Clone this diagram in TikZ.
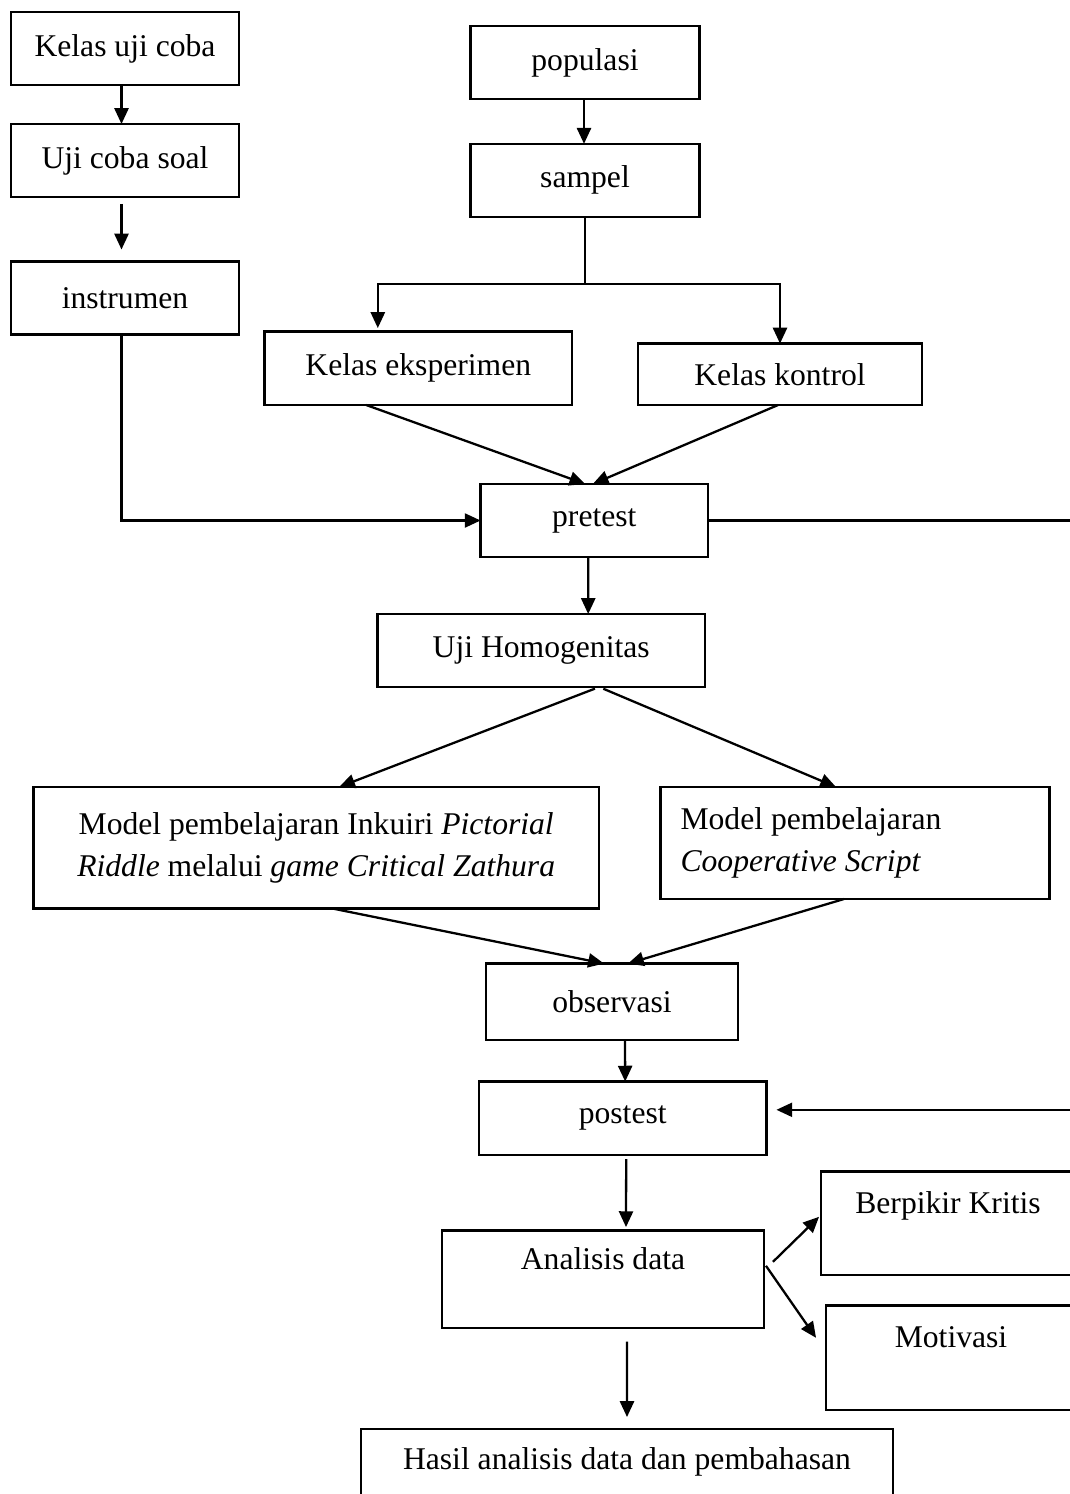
\documentclass[tikz,border=0pt]{standalone}
\usepackage{fontspec}
\setmainfont{Liberation Serif}
\usetikzlibrary{arrows.meta}

\begin{document}
\begin{tikzpicture}[x=0.02cm, y=-0.02cm,
  box/.style={draw, line width=1.3pt, rectangle, inner sep=0pt, outer sep=0pt, align=center, font=\fontsize{18}{23.8}\selectfont},
  arr/.style={line width=1.3pt, -{Triangle[length=9pt,width=8pt]}},
  ln/.style={line width=1.3pt}]
\useasboundingbox (0,0) rectangle (1070,1494);
\fill[white] (0,0) rectangle (1070,1494);
\node[box, minimum width=4.56cm, minimum height=1.46cm] (kelas) at (125,48.5) {Kelas uji coba};
\node[box, minimum width=4.56cm, minimum height=1.46cm] (soal) at (125,160.5) {Uji coba soal};
\node[box, minimum width=4.56cm, minimum height=1.46cm] (instr) at (125,298) {instrumen};
\node[box, minimum width=4.58cm, minimum height=1.46cm] (pop) at (585,62.5) {populasi};
\node[box, minimum width=4.58cm, minimum height=1.46cm] (samp) at (585,180.3) {sampel};
\node[box, minimum width=6.15cm, minimum height=1.47cm] (eksp) at (418.3,368.3) {Kelas eksperimen};
\node[box, minimum width=5.68cm, minimum height=1.23cm] (kontr) at (780,374.3) {Kelas kontrol};
\node[box, minimum width=4.55cm, minimum height=1.46cm] (pre) at (594.3,520.5) {pretest};
\node[box, minimum width=6.55cm, minimum height=1.46cm] (homo) at (541.2,650.5) {Uji Homogenitas};
\node[box, minimum width=11.31cm, minimum height=2.43cm] (inkuiri) at (316.2,847.7) {Model pembelajaran Inkuiri \textit{Pictorial}\\\textit{Riddle} melalui \textit{game Critical Zathura}};
\node[box, text width=6.98cm, inner xsep=0.4cm, align=flush left, minimum height=2.24cm] (coop) at (855,843) {Model pembelajaran\\\textit{Cooperative Script}};
\node[box, minimum width=5.04cm, minimum height=1.53cm] (obs) at (612,1001.8) {observasi};
\node[box, minimum width=5.75cm, minimum height=1.47cm] (post) at (622.7,1118.3) {postest};
\node[box, minimum width=6.44cm, minimum height=1.95cm] (anal) at (603,1279.3) {Analisis data\\\mbox{}};
\node[box, minimum width=5.08cm, minimum height=2.07cm] (kritis) at (948,1223.3) {Berpikir Kritis\\\mbox{}};
\node[box, minimum width=5.0cm, minimum height=2.09cm] (motiv) at (951,1357.8) {Motivasi\\\mbox{}};
\node[box, minimum width=10.64cm, minimum height=2.02cm] (hasil) at (627,1479.5) {Hasil analisis data dan pembahasan\\\mbox{}};
\coordinate (split) at (585,284);
\coordinate (rim) at (1076,520.5);
\draw[arr] ([xshift=-0.07cm]kelas.south)--([xshift=-0.07cm]soal.north);
\draw[arr, shorten <=0.14cm, shorten >=0.24cm] ([xshift=-0.07cm]soal.south)--([xshift=-0.07cm]instr.north);
\draw[arr] ([xshift=-0.07cm]instr.south) |- (pre.west);
\draw[arr] ([xshift=-0.02cm]pop.south)--([xshift=-0.02cm]samp.north);
\draw[ln] (samp.south)--(split);
\draw[arr, shorten >=0.07cm] (split) -| ([xshift=-0.81cm]eksp.north);
\draw[arr] (split) -| (kontr.north);
\draw[arr] ([xshift=-1.04cm]eksp.south)--([xshift=-0.18cm]pre.north);
\draw[arr] ([xshift=-0.04cm]kontr.south)--([xshift=-0.03cm]pre.north);
\draw[arr, shorten >=0.2cm] (pre.east)--(rim) |- ([yshift=0.17cm]post.east);
\draw[arr] ([xshift=-0.12cm]pre.south)--([xshift=0.94cm]homo.north);
\draw[arr, shorten <=0.09cm] ([xshift=1.16cm]homo.south)--([xshift=0.46cm]inkuiri.north);
\draw[arr, shorten <=0.09cm] ([xshift=1.16cm]homo.south)--([xshift=-0.38cm]coop.north);
\draw[arr] ([xshift=0.32cm]inkuiri.south)--([xshift=-0.16cm]obs.north);
\draw[arr] ([xshift=-0.22cm]coop.south)--([xshift=0.32cm]obs.north);
\draw[arr] ([xshift=0.26cm]obs.south)--([xshift=0.05cm]post.north);
\draw[arr, shorten <=0.08cm, shorten >=0.07cm] ([xshift=0.07cm]post.south)--([xshift=0.46cm]anal.north);
\draw[arr] ([shift={(0.18cm,0.35cm)}]anal.east)--([shift={(-0.04cm,0.13cm)}]kritis.west);
\draw[arr] ([shift={(0.04cm,0.27cm)}]anal.east)--([shift={(-0.2cm,0.4cm)}]motiv.west);
\draw[arr, shorten <=0.27cm, shorten >=0.24cm] ([xshift=0.48cm]anal.south)--(hasil.north);
\end{tikzpicture}
\end{document}
